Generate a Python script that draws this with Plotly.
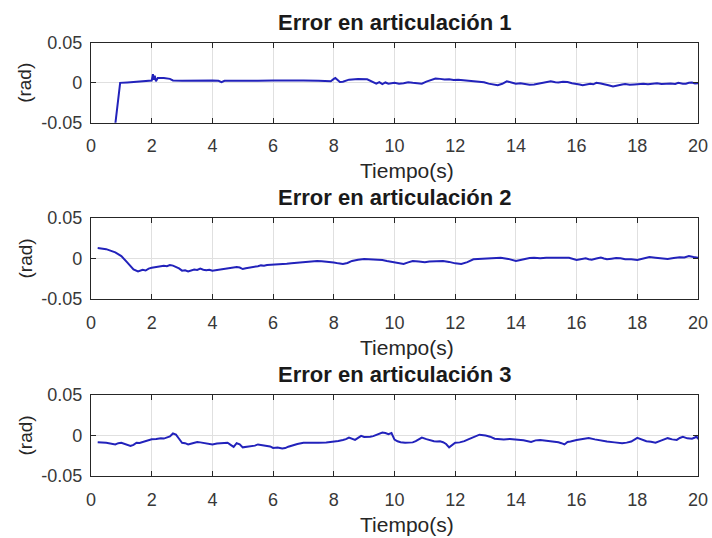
import plotly.graph_objects as go

# Joint tracking error, joint 1 (time in s, error in rad)
t1 = [0.80, 0.96, 1.2, 1.5, 1.8, 2.0, 2.04, 2.07, 2.10, 2.14, 2.2, 2.4, 2.6, 2.7,
      3.0, 3.5, 4.0, 4.2, 4.3, 4.4, 5.0, 5.5, 6.0, 6.5, 7.0, 7.5, 7.9, 8.0, 8.05,
      8.2, 8.3, 8.5, 8.8, 9.1, 9.2, 9.3, 9.4, 9.5, 9.6, 9.7, 9.8, 10.0, 10.15, 10.3,
      10.45, 10.6, 10.75, 10.9, 11.05, 11.2, 11.35, 11.5, 11.65, 11.8, 11.95, 12.1,
      12.3, 12.5, 12.65, 12.8, 12.95, 13.1, 13.25, 13.4, 13.55, 13.7, 13.85, 14.0,
      14.15, 14.3, 14.45, 14.6, 14.75, 14.9, 15.05, 15.15, 15.3, 15.4, 15.55, 15.7,
      15.85, 16.0, 16.1, 16.2, 16.35, 16.45, 16.55, 16.65, 16.8, 16.9, 17.05, 17.2,
      17.3, 17.4, 17.5, 17.6, 17.75, 17.9, 18.05, 18.2, 18.35, 18.5, 18.65, 18.8,
      18.95, 19.1, 19.25, 19.35, 19.5, 19.6, 19.7, 19.8, 19.9, 20.0]
e1 = [-0.052, 0.000, 0.0005, 0.0012, 0.002, 0.0028, 0.0110, 0.004, 0.009, 0.002,
      0.006, 0.006, 0.005, 0.003, 0.0025, 0.003, 0.0028, 0.0025, 0.0008, 0.0025,
      0.0023, 0.0027, 0.003, 0.0033, 0.003, 0.0025, 0.002, 0.005, 0.006, 0.001,
      0.0015, 0.004, 0.0048, 0.0045, 0.003, 0.0005, -0.001, 0.001, -0.0015, 0.0005,
      -0.001, 0.0, -0.0012, -0.0005, 0.0008, 0.0, -0.0008, -0.001, 0.0015, 0.004,
      0.0055, 0.005, 0.0042, 0.0045, 0.0035, 0.004, 0.0032, 0.003, 0.0022, 0.002,
      0.0008, -0.001, -0.002, -0.003, -0.0012, 0.002, 0.0005, -0.001, -0.0005,
      -0.0015, -0.0025, -0.002, -0.0008, 0.0, 0.0012, 0.002, 0.0008, 0.0005,
      0.0015, 0.001, -0.0005, -0.001, -0.002, -0.003, -0.002, -0.001, -0.0018, 0.0,
      -0.0008, -0.002, -0.003, -0.0045, -0.004, -0.003, -0.0022, -0.0015, -0.0025,
      -0.002, -0.0012, -0.0012, -0.0018, -0.001, -0.0005, -0.0015, -0.0008,
      -0.0008, -0.0015, 0.0, -0.0012, -0.001, 0.0002, 0.0005, -0.0008, -0.0005]

# Joint 2
t2 = [0.22, 0.5, 0.8, 1.0, 1.2, 1.4, 1.55, 1.7, 1.8, 1.9, 2.0, 2.1, 2.2, 2.3, 2.4,
      2.5, 2.6, 2.7, 2.8, 2.9, 3.0, 3.1, 3.2, 3.3, 3.4, 3.5, 3.6, 3.7, 3.8, 3.9, 4.0,
      4.1, 4.2, 4.35, 4.5, 4.65, 4.8, 4.9, 5.0, 5.1, 5.2, 5.3, 5.4, 5.5, 5.6, 5.7,
      5.8, 5.9, 6.0, 6.15, 6.3, 6.45, 6.6, 6.8, 7.0, 7.15, 7.3, 7.45, 7.6, 7.8, 8.0,
      8.15, 8.3, 8.45, 8.6, 8.8, 9.0, 9.15, 9.3, 9.45, 9.6, 9.75, 9.9, 10.0, 10.15,
      10.3, 10.45, 10.6, 10.8, 11.0, 11.15, 11.3, 11.45, 11.6, 11.8, 12.0, 12.2,
      12.4, 12.6, 12.8, 13.0, 13.25, 13.5, 13.75, 14.0, 14.15, 14.3, 14.45, 14.6,
      14.8, 15.0, 15.25, 15.5, 15.75, 16.0, 16.15, 16.3, 16.4, 16.5, 16.65, 16.8,
      16.9, 17.0, 17.15, 17.3, 17.45, 17.6, 17.8, 18.0, 18.2, 18.4, 18.6, 18.8,
      19.0, 19.2, 19.4, 19.55, 19.7, 19.85, 20.0]
e2 = [0.013, 0.0115, 0.0075, 0.003, -0.005, -0.0135, -0.016, -0.014, -0.0148,
      -0.0125, -0.0115, -0.0108, -0.0105, -0.0098, -0.009, -0.0095, -0.008,
      -0.0088, -0.0105, -0.0122, -0.015, -0.0145, -0.016, -0.0148, -0.0135,
      -0.0142, -0.0125, -0.0138, -0.0145, -0.0138, -0.015, -0.0145, -0.014,
      -0.0132, -0.0125, -0.0118, -0.0105, -0.0112, -0.013, -0.012, -0.0115,
      -0.0108, -0.0105, -0.0095, -0.0085, -0.0088, -0.008, -0.0078, -0.0075,
      -0.0078, -0.0072, -0.0065, -0.0058, -0.005, -0.0042, -0.0045, -0.0035,
      -0.0032, -0.0035, -0.004, -0.005, -0.006, -0.0067, -0.0055, -0.003, -0.0015,
      -0.0005, -0.0008, -0.0012, -0.001, -0.0018, -0.003, -0.004, -0.004, -0.0055,
      -0.0067, -0.0048, -0.003, -0.0038, -0.0046, -0.0038, -0.0035, -0.0028, -0.003,
      -0.0042, -0.006, -0.0067, -0.0045, -0.001, -0.0005, 0.0, 0.0005, 0.0008,
      -0.0005, -0.003, -0.0018, -0.0005, 0.0005, 0.0008, 0.0003, 0.0008, 0.001,
      0.0017, 0.001, -0.0017, -0.0005, 0.0002, -0.0008, -0.0015, 0.0, 0.0012,
      0.0, -0.001, -0.0002, 0.0005, 0.0002, -0.0008, -0.001, -0.0017, 0.0, 0.0017,
      0.001, 0.0, -0.0005, 0.0005, 0.0015, 0.0012, 0.003, 0.0018, 0.001]

# Joint 3
t3 = [0.22, 0.5, 0.8, 0.9, 1.0, 1.1, 1.2, 1.3, 1.4, 1.5, 1.6, 1.7, 1.85, 2.0, 2.15,
      2.3, 2.4, 2.5, 2.6, 2.7, 2.8, 2.9, 3.0, 3.1, 3.2, 3.35, 3.5, 3.6, 3.7, 3.85,
      4.0, 4.15, 4.3, 4.45, 4.5, 4.6, 4.7, 4.8, 4.9, 5.0, 5.15, 5.3, 5.4, 5.5, 5.65,
      5.8, 5.9, 6.0, 6.15, 6.3, 6.4, 6.5, 6.65, 6.8, 7.0, 7.25, 7.5, 7.75, 8.0, 8.15,
      8.3, 8.4, 8.5, 8.6, 8.7, 8.8, 8.9, 9.0, 9.1, 9.2, 9.3, 9.45, 9.6, 9.7, 9.8,
      9.9, 10.0, 10.1, 10.2, 10.35, 10.5, 10.6, 10.7, 10.8, 10.9, 11.05, 11.2, 11.3,
      11.4, 11.5, 11.6, 11.7, 11.8, 11.9, 12.0, 12.15, 12.3, 12.45, 12.6, 12.8,
      13.0, 13.15, 13.3, 13.45, 13.6, 13.8, 14.0, 14.25, 14.5, 14.65, 14.8, 15.0,
      15.2, 15.4, 15.5, 15.6, 15.7, 15.8, 16.0, 16.2, 16.4, 16.6, 16.8, 17.0,
      17.25, 17.5, 17.65, 17.8, 18.0, 18.15, 18.3, 18.45, 18.6, 18.8, 19.0, 19.15,
      19.3, 19.4, 19.5, 19.65, 19.8, 19.9, 19.95, 20.0]
e3 = [-0.0083, -0.009, -0.011, -0.0095, -0.009, -0.0105, -0.0117, -0.013,
      -0.0115, -0.009, -0.0092, -0.008, -0.0065, -0.0046, -0.0042, -0.0033,
      -0.0038, -0.002, -0.0012, 0.0025, 0.001, -0.004, -0.009, -0.0095, -0.011,
      -0.0095, -0.008, -0.0085, -0.009, -0.0102, -0.011, -0.0098, -0.0095, -0.0088,
      -0.009, -0.0115, -0.014, -0.0095, -0.0108, -0.0146, -0.0138, -0.0135,
      -0.0125, -0.011, -0.0118, -0.0125, -0.0135, -0.0154, -0.0148, -0.016,
      -0.0155, -0.0138, -0.012, -0.0105, -0.009, -0.0092, -0.009, -0.0085, -0.008,
      -0.0068, -0.0055, -0.0045, -0.0025, -0.004, -0.0055, -0.003, -0.0004,
      -0.0018, -0.002, -0.0015, -0.0008, 0.0012, 0.0037, 0.003, 0.0017, 0.003,
      -0.005, -0.0072, -0.0083, -0.0088, -0.009, -0.0085, -0.007, -0.005, -0.0025,
      -0.0045, -0.0063, -0.007, -0.0075, -0.0072, -0.0083, -0.0105, -0.0146,
      -0.012, -0.009, -0.0085, -0.007, -0.0045, -0.002, 0.001, 0.0, -0.0015,
      -0.004, -0.0045, -0.005, -0.0042, -0.005, -0.0058, -0.008, -0.006, -0.0055,
      -0.0063, -0.0072, -0.0083, -0.0095, -0.011, -0.008, -0.0075, -0.0055,
      -0.0045, -0.003, -0.0048, -0.0063, -0.0075, -0.0085, -0.0096, -0.0088,
      -0.0075, -0.003, -0.0052, -0.007, -0.0078, -0.0088, -0.006, -0.0033,
      -0.0048, -0.0055, -0.003, -0.0017, -0.0035, -0.004, -0.0025, -0.001,
      -0.0045, -0.0033]

titles = ["Error en articulación 1", "Error en articulación 2", "Error en articulación 3"]
x_ticks = [0, 2, 4, 6, 8, 10, 12, 14, 16, 18, 20]
y_ticks = [-0.05, 0, 0.05]
y_tick_text = ["-0.05", "0", "0.05"]

W, H = 712, 538
FONT = "Liberation Sans, Arial, sans-serif"
LINE = "#2222bb"
AXIS = "#262626"
GRID = "#e0e0e0"

# panel boxes in pixels (top, bottom); plot area spans x 91..698
x_left, x_right = 91, 698
panels = [(43, 122.7), (218, 299), (395, 476)]

fig = go.Figure()
series = [(t1, e1), (t2, e2), (t3, e3)]
for i, (t, e) in enumerate(series):
    sfx = "" if i == 0 else str(i + 1)
    fig.add_trace(go.Scatter(x=t, y=e, mode="lines", xaxis="x" + sfx, yaxis="y" + sfx,
                             line=dict(color=LINE, width=2), showlegend=False,
                             hoverinfo="skip"))

layout = dict(width=W, height=H, margin=dict(l=0, r=0, t=0, b=0),
              paper_bgcolor="white", plot_bgcolor="white", showlegend=False,
              font=dict(family=FONT, color="#262626"))
annotations = []
for i, (top, bot) in enumerate(panels):
    sfx = "" if i == 0 else str(i + 1)
    y0 = 1 - bot / H
    y1 = 1 - top / H
    layout["xaxis" + sfx] = dict(
        domain=[x_left / W, x_right / W], range=[0, 20], anchor="y" + sfx,
        tickvals=x_ticks, ticktext=[str(v) for v in x_ticks],
        ticks="inside", ticklen=5, tickwidth=1, tickcolor=AXIS,
        showline=True, linecolor=AXIS, linewidth=1.2, mirror="allticks",
        showgrid=True, gridcolor=GRID, gridwidth=1, zeroline=False,
        tickfont=dict(size=18, color="#383838", family=FONT), automargin=False,
        ticklabelstandoff=7)
    layout["yaxis" + sfx] = dict(
        domain=[y0, y1], range=[-0.05, 0.05], anchor="x" + sfx,
        tickvals=y_ticks, ticktext=y_tick_text,
        ticks="inside", ticklen=5, tickwidth=1, tickcolor=AXIS,
        showline=True, linecolor=AXIS, linewidth=1.2, mirror="allticks",
        showgrid=True, gridcolor=GRID, gridwidth=1, zeroline=False,
        tickfont=dict(size=18, color="#383838", family=FONT), automargin=False,
        ticklabelstandoff=4)
    annotations.append(dict(text="<b>" + titles[i] + "</b>", x=(x_left + x_right) / 2 / W,
                            y=1 - (top - 21) / H, xref="paper", yref="paper",
                            xanchor="center", yanchor="middle", showarrow=False,
                            font=dict(size=22, color="#1a1a1a", family=FONT)))
    annotations.append(dict(text="Tiempo(s)", x=407 / W, y=1 - (bot + 48) / H,
                            xref="paper", yref="paper", xanchor="center",
                            yanchor="middle", showarrow=False,
                            font=dict(size=21, color="#262626", family=FONT)))
    annotations.append(dict(text="(rad)", x=25 / W, y=1 - (top + bot) / 2 / H,
                            xref="paper", yref="paper", xanchor="center",
                            yanchor="middle", textangle=-90, showarrow=False,
                            font=dict(size=19, color="#262626", family=FONT)))
layout["annotations"] = annotations
fig.update_layout(**layout)
fig.write_html("out.html")
